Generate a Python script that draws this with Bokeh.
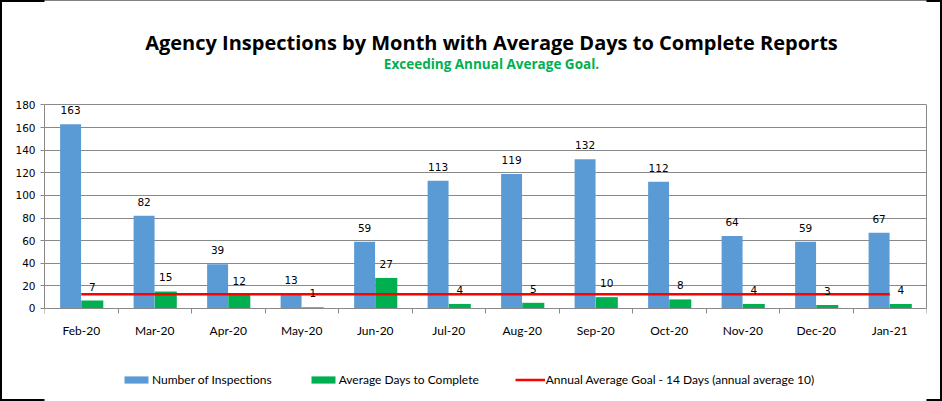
from bokeh.plotting import figure
from bokeh.models import (ColumnDataSource, Range1d, FixedTicker, LabelSet, Label,
                          Legend, LegendItem, LinearAxis)
from bokeh.core.properties import value
from bokeh.embed import file_html
from bokeh.resources import INLINE

months = ["Feb-20", "Mar-20", "Apr-20", "May-20", "Jun-20", "Jul-20",
          "Aug-20", "Sep-20", "Oct-20", "Nov-20", "Dec-20", "Jan-21"]
inspections = [163, 82, 39, 13, 59, 113, 119, 132, 112, 64, 59, 67]
avg_days = [7, 15, 12, 1, 27, 4, 5, 10, 8, 4, 3, 4]
goal_line = [12.5] * 12
y_ticks = [0, 20, 40, 60, 80, 100, 120, 140, 160, 180]

title_text = "Agency Inspections by Month with Average Days to Complete Reports"
subtitle_text = "Exceeding Annual Average Goal."
series_names = ["Number of Inspections", "Average Days to Complete",
                "Annual Average Goal - 14 Days (annual average 10)"]

BLUE = "#5B9BD5"
GREEN = "#00B050"
RED = "#FF0000"
GRAY = "#898989"

n = len(months)
centers = [i + 0.5 for i in range(n)]
src = ColumnDataSource(dict(
    c=centers,
    xb=[c - 0.145 for c in centers],
    xg=[c + 0.15 for c in centers],
    ins=inspections,
    avg=avg_days,
    goal=goal_line,
    ins_t=[str(v) for v in inspections],
    avg_t=[str(v) for v in avg_days],
))

W, H = 942, 401
# frame spans the full height; plot area 0..180 sits at y 104.5..308 px
Y_TOP, Y_BOT = 272.4, -82.3
p = figure(width=W, height=H, output_backend="svg", toolbar_location=None,
           x_range=Range1d(0, n), y_range=Range1d(Y_BOT, Y_TOP),
           min_border_left=44, min_border_right=16,
           min_border_top=0, min_border_bottom=0)
p.styles = {"outline": "2px solid black", "outline-offset": "-2px"}
p.background_fill_color = "white"
p.border_fill_color = None
p.outline_line_color = None

r_blue = p.vbar(x="xb", top="ins", width=0.285, source=src, fill_color=BLUE, line_color=None)
r_green = p.vbar(x="xg", top="avg", width=0.3, source=src, fill_color=GREEN, line_color=None)
r_red = p.line(x="c", y="goal", source=src, line_color=RED, line_width=2.5)

lab_font = value("DejaVu Sans")
p.add_layout(LabelSet(x="xb", y="ins", text="ins_t", source=src, y_offset=14,
                      text_align="center", text_baseline="middle",
                      text_font=lab_font, text_font_size="10.5px", text_color="black"))
p.add_layout(LabelSet(x="xg", y="avg", text="avg_t", source=src, y_offset=14,
                      text_align="center", text_baseline="middle",
                      text_font=lab_font, text_font_size="10.5px", text_color="black"))

# grid
p.xgrid.grid_line_color = None
p.ygrid.grid_line_color = GRAY
p.ygrid.ticker = FixedTicker(ticks=y_ticks)

# y axis
p.yaxis.ticker = FixedTicker(ticks=y_ticks)
p.yaxis.bounds = (0, 180)
p.yaxis.axis_line_color = GRAY
p.yaxis.major_tick_line_color = GRAY
p.yaxis.major_tick_in = 0
p.yaxis.major_tick_out = 4
p.yaxis.minor_tick_line_color = None
p.yaxis.major_label_standoff = 5
p.yaxis.major_label_text_font = "DejaVu Sans"
p.yaxis.major_label_text_font_size = "10.5px"
p.yaxis.major_label_text_color = "black"

# right border of the plot area
right_ax = LinearAxis(ticker=FixedTicker(ticks=[]), bounds=(0, 180),
                      axis_line_color=GRAY, major_tick_line_color=None,
                      minor_tick_line_color=None, major_label_text_alpha=0)
p.add_layout(right_ax, "right")

# x axis at y = 0
p.xaxis.fixed_location = 0
p.xaxis.ticker = FixedTicker(ticks=centers, minor_ticks=list(range(n + 1)))
p.xaxis.major_label_overrides = {c: m for c, m in zip(centers, months)}
p.xaxis.axis_line_color = GRAY
p.xaxis.major_tick_line_color = None
p.xaxis.major_tick_in = 0
p.xaxis.major_tick_out = 0
p.xaxis.minor_tick_line_color = GRAY
p.xaxis.minor_tick_in = 0
p.xaxis.minor_tick_out = 5
p.xaxis.major_label_standoff = 10
p.xaxis.major_label_text_font = "Lato"
p.xaxis.major_label_text_font_size = "12px"
p.xaxis.major_label_text_color = "black"

# titles
p.add_layout(Label(x=447, y=359.5, x_units="screen", y_units="screen", text=title_text,
                   text_align="center", text_baseline="middle",
                   text_font="Open Sans", text_font_style="bold",
                   text_font_size="20px", text_color="black"))
p.add_layout(Label(x=447, y=337.5, x_units="screen", y_units="screen", text=subtitle_text,
                   text_align="center", text_baseline="middle",
                   text_font="Open Sans", text_font_style="bold",
                   text_font_size="13.5px", text_color=GREEN))

legend = Legend(items=[LegendItem(label=series_names[0], renderers=[r_blue]),
                       LegendItem(label=series_names[1], renderers=[r_green]),
                       LegendItem(label=series_names[2], renderers=[r_red])],
                location=(77, 14), orientation="horizontal",
                glyph_width=30, glyph_height=9, label_height=9, label_standoff=1,
                spacing=36, padding=0, margin=0, border_line_color=None,
                background_fill_alpha=0,
                label_text_font="Lato", label_text_font_size="12px",
                label_text_color="black")
p.add_layout(legend, "center")

open("out.html", "w").write(file_html(p, INLINE))
